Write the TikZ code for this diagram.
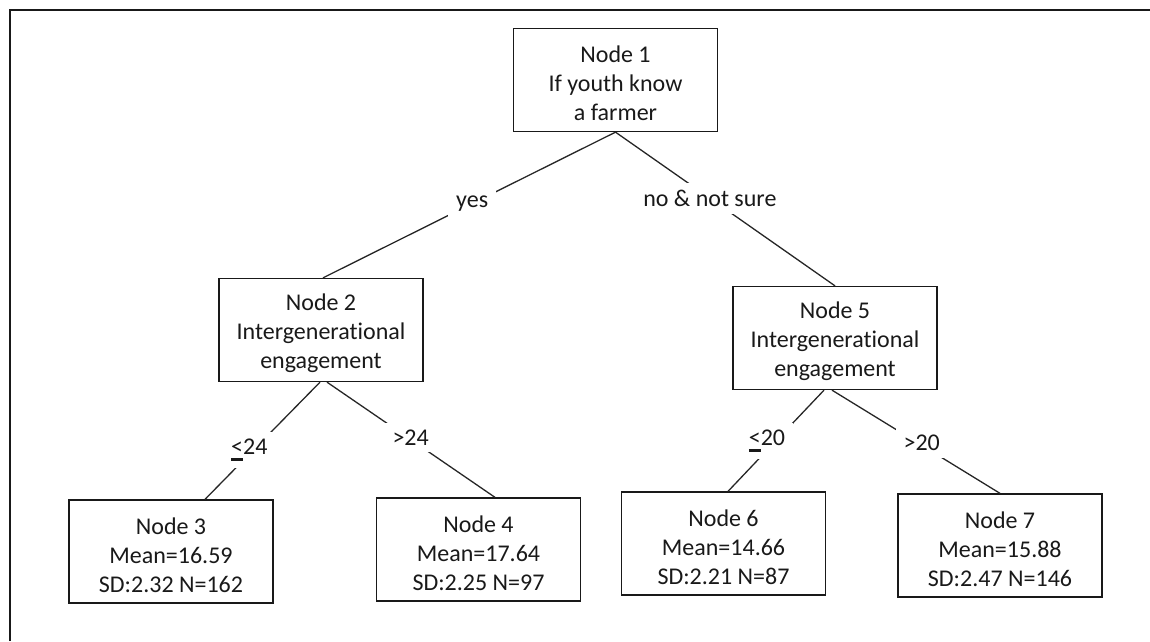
\documentclass[tikz,border=0pt]{standalone}
\usepackage{fontspec}
\setmainfont[Ligatures={NoCommon}]{Carlito}
\newcommand\uleq{\rlap{\raisebox{-6pt}{\rule{12pt}{2.6pt}}}<}
\newcommand\tstrut{\rule{0pt}{24pt}}
\begin{document}
\begin{tikzpicture}[x=1pt,y=-1pt,
  box/.style={draw=black!90, line width=1.3pt, minimum width=204pt, minimum height=103pt,
    align=center, inner sep=0pt, font=\fontsize{24}{29}\selectfont, text=black!90},
  lbl/.style={fill=white, inner xsep=8pt, inner ysep=7pt, font=\fontsize{24}{29}\selectfont, text=black!90},
  conn/.style={line width=1.3pt, draw=black!85}]
\useasboundingbox (0,0) rectangle (1150,641);
\draw[line width=1.5pt, black!90] (10,641) -- (10,10) -- (1150,10);
\node[box] (n1) at (615.5,80) {\tstrut Node 1\\If youth know\\a farmer};
\node[box] (n2) at (321,330) {\tstrut Node 2\\Intergenerational\\engagement};
\node[box] (n5) at (835,338) {\tstrut Node 5\\Intergenerational\\engagement};
\node[box] (n3) at (171,551.5) {\tstrut Node 3\\Mean=16.59\\SD:2.32 N=162};
\node[box] (n4) at (478.5,549.5) {\tstrut Node 4\\Mean=17.64\\SD:2.25 N=97};
\node[box] (n6) at (723.5,543.5) {\tstrut Node 6\\Mean=14.66\\SD:2.21 N=87};
\node[box] (n7) at (1000,545.5) {\tstrut Node 7\\Mean=15.88\\SD:2.47 N=146};
\draw[conn] (n1.south) -- node[lbl,pos=0.49]{yes} ([xshift=2pt]n2.north);
\draw[conn] (n1.south) -- node[lbl,pos=0.43]{no \& not sure} (n5.north);
\draw[conn] ([xshift=-1pt]n2.south) -- node[lbl,pos=0.58,xshift=-4pt]{\uleq 24} ([xshift=34pt]n3.north);
\draw[conn] ([xshift=6pt]n2.south) -- node[lbl,pos=0.48,xshift=3pt]{>24} ([xshift=16.5pt]n4.north);
\draw[conn] ([xshift=-11pt]n5.south) -- node[lbl,pos=0.5,xshift=-9pt]{\uleq 20} ([xshift=4.5pt]n6.north);
\draw[conn] ([xshift=-3pt]n5.south) -- node[lbl,pos=0.51,xshift=4pt]{>20} (n7.north);
\end{tikzpicture}
\end{document}
